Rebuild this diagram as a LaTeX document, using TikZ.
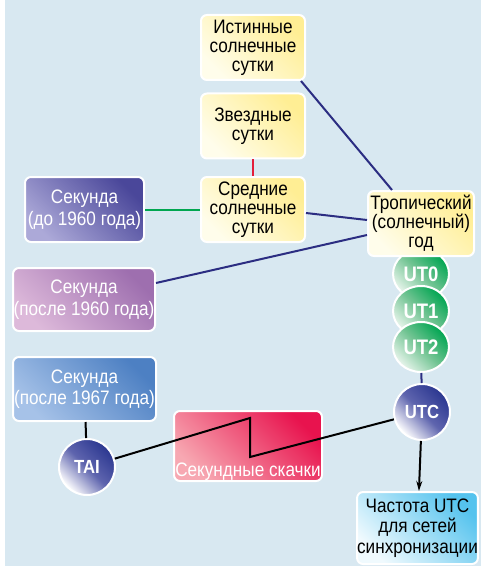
\documentclass[tikz,border=0pt]{standalone}
\usepackage{fontspec}
\setmainfont{Liberation Sans}[FakeStretch=0.88]
\usetikzlibrary{calc,arrows.meta,shapes.geometric}
\definecolor{bgblue}{HTML}{D8E8F1}
\definecolor{navyline}{HTML}{2B2D82}
\definecolor{redline}{HTML}{E31E3A}
\definecolor{grnline}{HTML}{00A651}
\definecolor{yelA}{HTML}{FFFDEB}
\definecolor{yelB}{HTML}{FFEE94}
\definecolor{lilA}{HTML}{ACA9D8}
\definecolor{lilB}{HTML}{4A479A}
\definecolor{pinkA}{HTML}{DDB9DA}
\definecolor{pinkB}{HTML}{9E6FAF}
\definecolor{skyA}{HTML}{A6C2E8}
\definecolor{skyB}{HTML}{4D80C3}
\definecolor{redA}{HTML}{F7A8B2}
\definecolor{redB}{HTML}{E8134E}
\definecolor{cyanA}{HTML}{F0FAFE}
\definecolor{cyanB}{HTML}{55C3EE}
\definecolor{grnA}{HTML}{E8F5EC}
\definecolor{grnM}{HTML}{72C493}
\definecolor{grnB}{HTML}{00A551}
\definecolor{dblA}{HTML}{FFFFFF}
\definecolor{dblM}{HTML}{5E64AE}
\definecolor{dblB}{HTML}{2B3790}

\begin{document}
\begin{tikzpicture}[x=1pt,y=-1pt,
  box/.style={draw=white, line width=2pt, rounded corners=6pt, align=center,
    inner sep=0pt, font=\fontsize{19.5}{19}\selectfont},
  ybox/.style={box, left color=yelA, right color=yelB, shading angle=135,
    minimum width=104pt, minimum height=65pt},
  secbox/.style={box, text=white, font=\fontsize{19.5}{21.5}\selectfont},
  utcirc/.style={ellipse, draw=white, line width=2pt, inner sep=0pt,
    minimum width=56pt, minimum height=50pt, left color=grnA, right color=grnB,
    middle color=grnM, shading angle=135, text=white,
    font=\fontsize{21}{21}\selectfont\bfseries},
  timecirc/.style={circle, draw=white, line width=2pt, inner sep=0pt,
    minimum size=56pt, left color=dblA, right color=dblB, middle color=dblM,
    shading angle=135, text=white, font=\fontsize{19}{19}\selectfont\bfseries},
  link/.style={line width=2pt}
]

\useasboundingbox (0,0) rectangle (481,572);
\fill[bgblue] (5,0) rectangle (481,566);

% boxes
\node[ybox] (ist) at (253,47.5) {Истинные\\солнечные\\сутки};
\node[ybox] (zv) at (253,126) {Звездные\\сутки};
\node[ybox] (sr) at (253,209.5) {Средние\\солнечные\\сутки};
\node[secbox, left color=lilA, right color=lilB, shading angle=135,
  minimum width=119pt, minimum height=65pt] (sec1) at (84.5,209.5) {Секунда\\(до 1960 года)};
\node[secbox, left color=pinkA, right color=pinkB, shading angle=135,
  minimum width=142pt, minimum height=63pt] (sec2) at (84,299.5) {Секунда\\(после 1960 года)};
\node[secbox, left color=skyA, right color=skyB, shading angle=135,
  minimum width=143pt, minimum height=64pt] (sec3) at (84.5,389) {Секунда\\(после 1967 года)};
\node[box, text=white, left color=redA, right color=redB, shading angle=135,
  minimum width=148pt, text height=65pt, text depth=5pt] (jump) at (248,446) {Секундные скачки};
\node[box, left color=cyanA, right color=cyanB, shading angle=135, font=\fontsize{19.5}{20.5}\selectfont,
  minimum width=119pt, minimum height=72pt] (freq) at (417.5,528) {Частота UTC\\для сетей\\синхронизации};

% circles
\node[utcirc] (ut0) at (421,274) {UT0};
\node[ybox, minimum width=106pt] (trop) at (421,223.5) {Тропический\\(солнечный)\\год};
\node[utcirc] (ut1) at (421,311) {UT1};
\node[utcirc] (ut2) at (421,347) {UT2};
\node[timecirc] (utc) at (422,412) {UTC};
\node[timecirc] (tai) at (87,467) {TAI};

% links
\draw[link, navyline] ($(ist.south east)+(-5,0)$) -- ($(trop.north west)+(25,0)$);
\draw[link, navyline] ($(sr.east)+(0,3.5)$) -- ($(trop.west)+(0,-3.5)$);
\draw[link, navyline] ($(sec2.east)+(0,-16.5)$) -- ($(trop.west)+(0,11.5)$);
\draw[link, redline] (zv) -- (sr);
\draw[link, grnline] (sec1.east) -- (sec1.east -| sr.west);
\draw[link, navyline] (ut2) -- (utc);
\draw[link] (sec3) -- (tai);
\coordinate (jt) at (250,418);
\coordinate (jb) at (250,457);
\draw[link] (tai) -- (jt) -- (jb) -- (utc);
\draw[link, -{Stealth[length=10pt,width=6pt]}] (utc) -- (freq);

\end{tikzpicture}
\end{document}
